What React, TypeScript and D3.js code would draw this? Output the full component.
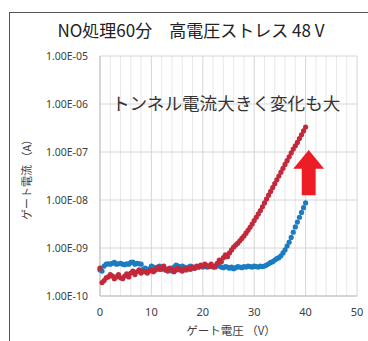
import React from 'react';
import * as d3 from 'd3';

// gate voltage sweep (V)
const gateVoltage = [
  0, 0.4, 0.8, 1.2, 1.6, 2, 2.4, 2.8, 3.2, 3.6, 4, 4.4, 4.8, 5.2, 5.6, 6, 6.4, 6.8, 7.2, 7.6,
  8, 8.4, 8.8, 9.2, 9.6, 10, 10.4, 10.8, 11.2, 11.6, 12, 12.4, 12.8, 13.2, 13.6, 14, 14.4, 14.8, 15.2, 15.6,
  16, 16.4, 16.8, 17.2, 17.6, 18, 18.4, 18.8, 19.2, 19.6, 20, 20.4, 20.8, 21.2, 21.6, 22, 22.4, 22.8, 23.2, 23.6,
  24, 24.4, 24.8, 25.2, 25.6, 26, 26.4, 26.8, 27.2, 27.6, 28, 28.4, 28.8, 29.2, 29.6, 30, 30.4, 30.8, 31.2, 31.6,
  32, 32.4, 32.8, 33.2, 33.6, 34, 34.4, 34.8, 35.2, 35.6, 36, 36.4, 36.8, 37.2, 37.6, 38, 38.4, 38.8, 39.2, 39.6,
  40,
];

// after stress (red)
const currentAfter = [
  3.8e-10, 1.9e-10, 2.1e-10, 2.4e-10, 2.5e-10, 2.8e-10, 2.6e-10, 2.3e-10, 2.5e-10, 2.8e-10,
  2.4e-10, 2.3e-10, 2.6e-10, 2.9e-10, 2.5e-10, 3.0e-10, 3.3e-10, 2.8e-10, 3.2e-10, 3.5e-10,
  3.0e-10, 3.3e-10, 3.2e-10, 3.0e-10, 3.3e-10, 3.5e-10, 3.2e-10, 3.5e-10, 4.0e-10, 3.6e-10,
  3.8e-10, 4.2e-10, 3.5e-10, 3.3e-10, 3.8e-10, 3.6e-10, 3.2e-10, 3.5e-10, 3.8e-10, 3.5e-10,
  3.3e-10, 3.7e-10, 3.5e-10, 3.8e-10, 3.6e-10, 4.0e-10, 3.8e-10, 4.2e-10, 4.0e-10, 4.4e-10,
  4.2e-10, 4.6e-10, 4.3e-10, 4.1e-10, 4.6e-10, 4.2e-10, 4.0e-10, 4.8e-10, 5.6e-10, 5.2e-10,
  6.3e-10, 7.2e-10, 6.6e-10, 7.9e-10, 9.1e-10, 1.05e-9, 1.15e-9, 1.26e-9, 1.41e-9, 1.58e-9,
  1.78e-9, 2.04e-9, 2.34e-9, 2.69e-9, 3.16e-9, 3.72e-9, 4.37e-9, 5.13e-9, 6.03e-9, 7.24e-9,
  8.71e-9, 1.05e-8, 1.26e-8, 1.51e-8, 1.82e-8, 2.19e-8, 2.63e-8, 3.16e-8, 3.8e-8, 4.57e-8,
  5.5e-8, 6.61e-8, 7.94e-8, 9.55e-8, 1.15e-7, 1.35e-7, 1.58e-7, 1.91e-7, 2.29e-7, 2.75e-7,
  3.31e-7,
];

// before stress (blue)
const currentBefore = [
  3.5e-10, 3.3e-10, 4.2e-10, 4.6e-10, 4.7e-10, 4.6e-10, 4.8e-10, 5.0e-10, 4.6e-10, 4.7e-10,
  4.8e-10, 4.6e-10, 4.5e-10, 4.7e-10, 4.6e-10, 5.0e-10, 5.1e-10, 4.6e-10, 4.8e-10, 4.7e-10,
  4.6e-10, 3.6e-10, 3.8e-10, 3.5e-10, 3.7e-10, 4.2e-10, 4.0e-10, 3.6e-10, 3.8e-10, 4.2e-10,
  3.6e-10, 3.8e-10, 3.5e-10, 3.7e-10, 3.5e-10, 3.3e-10, 4.0e-10, 4.4e-10, 4.2e-10, 3.8e-10,
  4.2e-10, 4.0e-10, 3.7e-10, 4.0e-10, 4.2e-10, 4.0e-10, 3.8e-10, 4.1e-10, 4.0e-10, 4.2e-10,
  4.0e-10, 4.3e-10, 4.0e-10, 4.1e-10, 4.2e-10, 4.0e-10, 4.2e-10, 4.3e-10, 4.2e-10, 4.0e-10,
  3.9e-10, 4.1e-10, 4.0e-10, 3.8e-10, 4.0e-10, 3.7e-10, 3.9e-10, 4.1e-10, 4.0e-10, 3.9e-10,
  4.1e-10, 4.0e-10, 4.2e-10, 4.1e-10, 4.0e-10, 4.2e-10, 4.1e-10, 4.0e-10, 4.2e-10, 4.1e-10,
  4.2e-10, 4.4e-10, 4.7e-10, 5.0e-10, 5.2e-10, 5.6e-10, 6.0e-10, 6.3e-10, 6.9e-10, 7.9e-10,
  9.1e-10, 1.1e-9, 1.32e-9, 1.66e-9, 2.14e-9, 2.75e-9, 3.47e-9, 4.37e-9, 5.5e-9, 6.92e-9,
  8.71e-9,
];

const xTicks = [0, 10, 20, 30, 40, 50];
const xMinorTicks = [2, 4, 6, 8, 12, 14, 16, 18, 22, 24, 26, 28, 32, 34, 36, 38, 42, 44, 46, 48];
const yTicks = [1e-10, 1e-9, 1e-8, 1e-7, 1e-6, 1e-5];
const yTickLabels = ['1.00E-10', '1.00E-09', '1.00E-08', '1.00E-07', '1.00E-06', '1.00E-05'];

const title = 'NO処理60分\u3000高電圧ストレス 48 V';
const note = 'トンネル電流大きく変化も大';

// arrow in data space: [voltage, current]
const arrowTipV = 40.6;
const arrowTipI = 1.1e-7;
const arrowNeckI = 4.5e-8;
const arrowBaseI = 1.26e-8;

const W = 368;
const H = 341;
const margin = { top: 56, right: 11, bottom: 45, left: 100 };

const App = () => {
  const x = d3.scaleLinear().domain([0, 50]).range([margin.left, W - margin.right]);
  const y = d3.scaleLog().domain([1e-10, 1e-5]).range([H - margin.bottom, margin.top]);

  const font = "'Noto Sans CJK JP', 'Noto Sans', sans-serif";
  const tickFont = "'Noto Sans', sans-serif";

  const dots = (vals: number[], color: string) =>
    vals.map((v, i) => (
      <circle key={i} cx={x(gateVoltage[i])} cy={y(v)} r={2.6} fill={color} />
    ));

  const headHalf = x(3) - x(0);
  const shaftHalf = x(1.35) - x(0);
  const ax = x(arrowTipV);
  const arrowPts = [
    [ax, y(arrowTipI)],
    [ax + headHalf, y(arrowNeckI)],
    [ax + shaftHalf, y(arrowNeckI)],
    [ax + shaftHalf, y(arrowBaseI)],
    [ax - shaftHalf, y(arrowBaseI)],
    [ax - shaftHalf, y(arrowNeckI)],
    [ax - headHalf, y(arrowNeckI)],
  ];

  const [y0, y1] = y.range();

  return (
    <svg width={W} height={H} style={{ position: 'absolute', left: 0, top: 0, background: '#fff' }}>
      {/* outer frame */}
      <rect x={9.5} y={12.5} width={370} height={340} fill="none" stroke="#555" strokeWidth={1} />

      <text x={191} y={37} textAnchor="middle" fontFamily={font} fontSize={17} fill="#222">
        {title}
      </text>

      {/* grid */}
      {xMinorTicks.map(t => (
        <line key={'m' + t} x1={x(t)} x2={x(t)} y1={y0} y2={y1} stroke="#e8e8e8" strokeWidth={1} />
      ))}
      {xTicks.map(t => (
        <line key={'v' + t} x1={x(t)} x2={x(t)} y1={y0} y2={y1} stroke="#d6d6d6" strokeWidth={1} />
      ))}
      {yTicks.map(t => (
        <line key={'h' + t} x1={x(0)} x2={x(50)} y1={y(t)} y2={y(t)} stroke="#d6d6d6" strokeWidth={1} />
      ))}
      <line x1={x(0)} x2={x(50)} y1={y0} y2={y0} stroke="#bfbfbf" />
      <line x1={x(0)} x2={x(0)} y1={y0} y2={y1} stroke="#bfbfbf" />

      {/* tick labels */}
      {yTicks.map((t, i) => (
        <text key={'yl' + t} x={x(0) - 12} y={y(t) + 4} textAnchor="end" fontFamily={tickFont} fontSize={10.5} fill="#404040">
          {yTickLabels[i]}
        </text>
      ))}
      {xTicks.map(t => (
        <text key={'xl' + t} x={x(t)} y={y0 + 20} textAnchor="middle" fontFamily={tickFont} fontSize={11} fill="#404040">
          {t}
        </text>
      ))}

      {/* axis titles */}
      <text x={231} y={335} textAnchor="middle" fontFamily={font} fontSize={11.5} fill="#404040">
        ゲート電圧 （V）
      </text>
      <text transform={`translate(31,177) rotate(-90)`} textAnchor="middle" fontFamily={font} fontSize={11} fill="#404040">
        ゲート電流 （A）
      </text>

      {/* series */}
      {dots(currentBefore, '#1b7dc0')}
      {dots(currentAfter, '#c3283b')}

      <polygon points={arrowPts.map(p => p.join(',')).join(' ')} fill="#ee1c25" />

      <text x={112} y={110} fontFamily={font} fontSize={17.6} fill="#333">
        {note}
      </text>
    </svg>
  );
};

export default App;
